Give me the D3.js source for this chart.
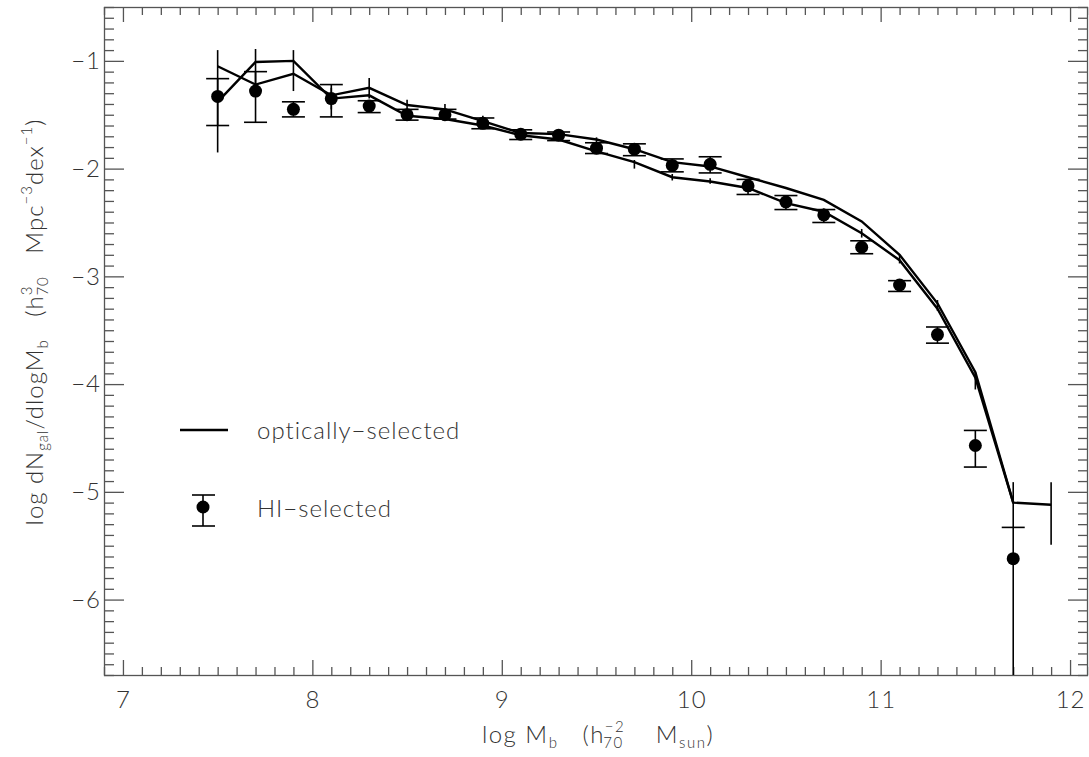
<!DOCTYPE html>
<html>
<head>
<meta charset="utf-8">
<script src="https://cdn.jsdelivr.net/npm/d3@7"></script>
<style>
  body { margin: 0; background: #fff; }
  text { font-family: Lato, "Open Sans", "DejaVu Sans", sans-serif; font-weight: 300; fill: #333; }
</style>
</head>
<body>
<svg id="chart" width="1089" height="757"></svg>
<script>
// log M_b bin centres
const massBins = [7.5, 7.7, 7.9, 8.1, 8.3, 8.5, 8.7, 8.9, 9.1, 9.3, 9.5, 9.7, 9.9, 10.1, 10.3, 10.5, 10.7, 10.9, 11.1, 11.3, 11.5, 11.7];

// HI-selected points with asymmetric errors (null = no lower limit)
const hiValues = [-1.33, -1.28, -1.45, -1.35, -1.42, -1.50, -1.50, -1.58, -1.68, -1.69, -1.81, -1.82, -1.97, -1.96, -2.16, -2.31, -2.43, -2.73, -3.08, -3.54, -4.57, -5.62];
const hiErrUp = [-1.165, -1.10, -1.38, -1.22, -1.37, -1.45, -1.45, -1.53, -1.64, -1.66, -1.76, -1.77, -1.91, -1.89, -2.10, -2.25, -2.38, -2.67, -3.04, -3.47, -4.43, -5.33];
const hiErrLo = [-1.60, -1.57, -1.52, -1.52, -1.48, -1.55, -1.54, -1.63, -1.73, -1.74, -1.86, -1.88, -2.03, -2.04, -2.24, -2.38, -2.50, -2.79, -3.14, -3.62, -4.77, null];

// optically-selected estimates (two curves)
const optBinsA = [7.5, 7.7, 7.9, 8.1, 8.3, 8.5, 8.7, 8.9, 9.1, 9.3, 9.5, 9.7, 9.9, 10.1, 10.3, 10.5, 10.7, 10.9, 11.1, 11.3, 11.5, 11.7, 11.9];
const optValuesA = [-1.05, -1.22, -1.12, -1.32, -1.25, -1.41, -1.45, -1.56, -1.67, -1.68, -1.73, -1.82, -1.94, -1.98, -2.08, -2.18, -2.29, -2.49, -2.80, -3.25, -3.89, -5.10, -5.12];
const optValuesB = [-1.38, -1.01, -1.00, -1.35, -1.32, -1.51, -1.54, -1.60, -1.69, -1.73, -1.84, -1.94, -2.08, -2.12, -2.18, -2.32, -2.40, -2.60, -2.85, -3.30, -3.94, -5.10];

// vertical error segments on the optical curves
const optErrBins = [7.5, 7.7, 7.9, 8.1, 8.3, 8.5, 8.7, 8.9, 9.1, 9.3, 9.5, 9.7, 9.9, 10.1, 10.3, 10.5, 10.7, 10.9, 11.1, 11.3, 11.5, 11.7, 11.9];
const optErrUp = [-0.90, -0.89, -0.90, -1.25, -1.16, -1.36, -1.40, -1.51, -1.64, -1.65, -1.71, -1.92, -2.05, -2.09, -2.15, -2.29, -2.37, -2.56, -2.80, -3.22, -3.89, -4.91, -4.91];
const optErrLo = [-1.85, -1.30, -1.28, -1.45, -1.35, -1.47, -1.48, -1.60, -1.70, -1.71, -1.76, -2.00, -2.11, -2.14, -2.21, -2.35, -2.43, -2.64, -2.88, -3.32, -4.05, -5.33, -5.49];

const xMajor = [7, 8, 9, 10, 11, 12];
const yMajor = [-1, -2, -3, -4, -5, -6];

const svg = d3.select("#chart");
const plotLeft = 104, plotRight = 1089, plotTop = 7, plotBottom = 675;

const x = d3.scaleLinear().domain([6.9, 12.1]).range([plotLeft, plotRight]);
const y = d3.scaleLinear().domain([-6.7, -0.5]).range([plotBottom, plotTop]);

const xMinor = d3.range(69, 122).map(d => d / 10).filter(d => !xMajor.includes(d));
const yMinor = d3.range(-67, -4).map(d => d / 10).filter(d => !yMajor.includes(d));

const axisColor = "#555";

function styleAxis(g) {
    g.select(".domain").remove();
    g.selectAll(".tick line").attr("stroke", axisColor).attr("stroke-width", 1.3);
    g.selectAll(".tick text").attr("fill", "#333").style("font-size", "24px").style("font-family", "Lato, 'Open Sans', sans-serif").style("font-weight", 300).style("letter-spacing", "1px");
}

// bottom
svg.append("g").attr("transform", `translate(0,${plotBottom})`)
    .call(d3.axisBottom(x).tickValues(xMinor).tickSize(-8).tickFormat("")).call(styleAxis);
svg.append("g").attr("transform", `translate(0,${plotBottom})`)
    .call(d3.axisBottom(x).tickValues(xMajor).tickSize(-15).tickPadding(16).tickFormat(d3.format("d"))).call(styleAxis);
// top
svg.append("g").attr("transform", `translate(0,${plotTop})`)
    .call(d3.axisTop(x).tickValues(xMinor).tickSize(-8).tickFormat("")).call(styleAxis);
svg.append("g").attr("transform", `translate(0,${plotTop})`)
    .call(d3.axisTop(x).tickValues(xMajor).tickSize(-15).tickFormat("")).call(styleAxis);
// left
svg.append("g").attr("transform", `translate(${plotLeft},0)`)
    .call(d3.axisLeft(y).tickValues(yMinor).tickSize(-10).tickFormat("")).call(styleAxis);
svg.append("g").attr("transform", `translate(${plotLeft},0)`)
    .call(d3.axisLeft(y).tickValues(yMajor).tickSize(-20).tickPadding(3).tickFormat(d3.format("d"))).call(styleAxis);
// right
svg.append("g").attr("transform", `translate(${plotRight - 1},0)`)
    .call(d3.axisRight(y).tickValues(yMinor).tickSize(-10).tickFormat("")).call(styleAxis);
svg.append("g").attr("transform", `translate(${plotRight - 1},0)`)
    .call(d3.axisRight(y).tickValues(yMajor).tickSize(-20).tickFormat("")).call(styleAxis);

svg.append("rect")
    .attr("x", plotLeft + 0.5).attr("y", plotTop + 0.5)
    .attr("width", plotRight - plotLeft - 2).attr("height", plotBottom - plotTop)
    .attr("fill", "none").attr("stroke", axisColor).attr("stroke-width", 1.3);

const plot = svg.append("g");

// optical curves
const line = d3.line().x(d => x(d[0])).y(d => y(d[1]));
plot.append("path").datum(d3.zip(optBinsA, optValuesA))
    .attr("d", line).attr("fill", "none").attr("stroke", "#000").attr("stroke-width", 2.4);
plot.append("path").datum(d3.zip(massBins, optValuesB))
    .attr("d", line).attr("fill", "none").attr("stroke", "#000").attr("stroke-width", 2.4);

plot.selectAll(".opterr").data(d3.zip(optErrBins, optErrUp, optErrLo)).join("line")
    .attr("class", "opterr")
    .attr("x1", d => x(d[0])).attr("x2", d => x(d[0]))
    .attr("y1", d => y(d[1])).attr("y2", d => y(d[2]))
    .attr("stroke", "#000").attr("stroke-width", 1.6);

// HI points
const capHalf = 11.5;
const hiData = massBins.map((m, i) => ({
    m, v: hiValues[i], up: hiErrUp[i],
    lo: hiErrLo[i] === null ? y.domain()[0] : hiErrLo[i],
    cappedLo: hiErrLo[i] !== null
}));

plot.selectAll(".hibar").data(hiData).join("line")
    .attr("class", "hibar")
    .attr("x1", d => x(d.m)).attr("x2", d => x(d.m))
    .attr("y1", d => y(d.up)).attr("y2", d => y(d.lo))
    .attr("stroke", "#000").attr("stroke-width", 1.6);
plot.selectAll(".hicapup").data(hiData).join("line")
    .attr("class", "hicapup")
    .attr("x1", d => x(d.m) - capHalf).attr("x2", d => x(d.m) + capHalf)
    .attr("y1", d => y(d.up)).attr("y2", d => y(d.up))
    .attr("stroke", "#000").attr("stroke-width", 1.6);
plot.selectAll(".hicaplo").data(hiData.filter(d => d.cappedLo)).join("line")
    .attr("class", "hicaplo")
    .attr("x1", d => x(d.m) - capHalf).attr("x2", d => x(d.m) + capHalf)
    .attr("y1", d => y(d.lo)).attr("y2", d => y(d.lo))
    .attr("stroke", "#000").attr("stroke-width", 1.6);
plot.selectAll(".hipt").data(hiData).join("circle")
    .attr("class", "hipt")
    .attr("cx", d => x(d.m)).attr("cy", d => y(d.v)).attr("r", 6.5).attr("fill", "#000");

// legend
const lg = svg.append("g");
lg.append("line").attr("x1", 180).attr("x2", 228).attr("y1", 430).attr("y2", 430).attr("stroke", "#000").attr("stroke-width", 2.4);
lg.append("text").attr("x", 257).attr("y", 439).style("font-size", "24px").style("letter-spacing", "1px").text("optically\u2212selected");
lg.append("line").attr("x1", 203).attr("x2", 203).attr("y1", 495).attr("y2", 526).attr("stroke", "#000").attr("stroke-width", 1.6);
lg.append("line").attr("x1", 192).attr("x2", 215).attr("y1", 495).attr("y2", 495).attr("stroke", "#000").attr("stroke-width", 1.6);
lg.append("line").attr("x1", 192).attr("x2", 215).attr("y1", 526).attr("y2", 526).attr("stroke", "#000").attr("stroke-width", 1.6);
lg.append("circle").attr("cx", 203).attr("cy", 507).attr("r", 6.5).attr("fill", "#000");
lg.append("text").attr("x", 257).attr("y", 517).style("font-size", "24px").style("letter-spacing", "1px").text("HI\u2212selected");

// axis titles
const xt = svg.append("text").attr("x", 598).attr("y", 743).attr("text-anchor", "middle")
    .style("font-size", "24px").style("letter-spacing", "1.5px");
xt.append("tspan").text("log M");
xt.append("tspan").attr("dy", 5).style("font-size", "15px").text("b");
xt.append("tspan").attr("dy", -5).text("\u00a0\u00a0\u00a0(h");
xt.append("tspan").attr("dy", -11).style("font-size", "15px").text("\u22122");
xt.append("tspan").attr("dy", 16).attr("dx", -22).style("font-size", "15px").text("70");
xt.append("tspan").attr("dy", -5).text("\u00a0\u00a0\u00a0\u00a0M");
xt.append("tspan").attr("dy", 5).style("font-size", "15px").text("sun");
xt.append("tspan").attr("dy", -5).text(")");

const yt = svg.append("text").attr("transform", "translate(43,322) rotate(-90)").attr("text-anchor", "middle")
    .style("font-size", "24px").style("letter-spacing", "1px");
yt.append("tspan").text("log dN");
yt.append("tspan").attr("dy", 5).style("font-size", "15px").text("gal");
yt.append("tspan").attr("dy", -5).text("/dlogM");
yt.append("tspan").attr("dy", 5).style("font-size", "15px").text("b");
yt.append("tspan").attr("dy", -5).text("\u00a0\u00a0\u00a0(h");
yt.append("tspan").attr("dy", -11).style("font-size", "15px").text("3");
yt.append("tspan").attr("dy", 16).attr("dx", -10).style("font-size", "15px").text("70");
yt.append("tspan").attr("dy", -5).text("\u00a0\u00a0\u00a0Mpc");
yt.append("tspan").attr("dy", -11).style("font-size", "15px").text("\u22123");
yt.append("tspan").attr("dy", 11).text("dex");
yt.append("tspan").attr("dy", -11).style("font-size", "15px").text("\u22121");
yt.append("tspan").attr("dy", 11).text(")");
</script>
</body>
</html>
